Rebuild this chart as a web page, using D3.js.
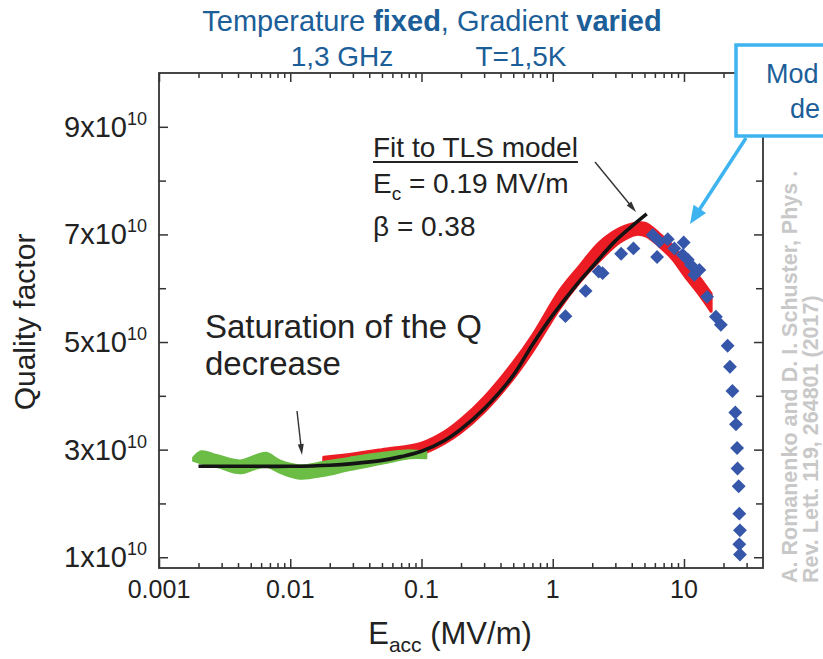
<!DOCTYPE html>
<html>
<head>
<meta charset="utf-8">
<script src="https://cdn.jsdelivr.net/npm/d3@7"></script>
<style>
  html, body { margin: 0; padding: 0; background: #fff; }
  svg { display: block; font-family: "Liberation Sans", Arial, Helvetica, sans-serif; }
</style>
</head>
<body>
<svg id="chart" width="823" height="659"></svg>
<script>
// ---- Data -----------------------------------------------------------------
// Quality factor values are in units of 1e10.

// Measured points at high gradient (blue diamonds)
const diamondE = [1.25, 1.78, 2.24, 2.40, 3.32, 4.12, 5.78, 6.24, 6.50, 7.52, 8.45, 9.78, 9.95,
                  10.7, 11.3, 12.0, 13.1, 15.0, 17.5, 19.1, 21.5, 22.4, 23.4, 24.6, 24.9, 25.4,
                  25.6, 26.1, 26.4, 26.7, 26.4, 26.7];
const diamondQ = [5.48, 5.95, 6.31, 6.28, 6.64, 6.74, 6.99, 6.58, 6.87, 6.91, 6.74, 6.62, 6.85,
                  6.53, 6.43, 6.25, 6.34, 5.84, 5.47, 5.32, 4.93, 4.54, 4.09, 3.69, 3.47, 3.03,
                  2.65, 2.32, 1.81, 1.50, 1.24, 1.05];

// Red measurement band (upper / lower edge)
const redE    = [0.018, 0.03, 0.05, 0.1, 0.15, 0.2, 0.3, 0.5, 0.7, 1.127, 1.6, 2.27, 3.22, 4.31, 5.15, 6.5, 8.2, 10.2, 13.1, 16.1];
const redHigh = [2.86, 2.92, 3.00, 3.12, 3.33, 3.56, 3.97, 4.62, 5.12, 5.95, 6.41, 6.85, 7.11, 7.21, 7.20, 7.01, 6.79, 6.52, 6.20, 5.90];
const redLow  = [2.78, 2.74, 2.78, 2.92, 3.12, 3.32, 3.70, 4.32, 4.82, 5.62, 6.11, 6.51, 6.85, 7.00, 6.97, 6.78, 6.54, 6.22, 5.88, 5.57];

// Green measurement band at low field (upper / lower edge)
const greenE    = [0.00182, 0.0021, 0.00275, 0.00413, 0.00554, 0.0066, 0.00834, 0.01183, 0.0178, 0.0284, 0.0509, 0.0813, 0.1089];
const greenHigh = [2.85, 2.97, 2.90, 2.80, 2.90, 2.94, 2.80, 2.71, 2.77, 2.85, 2.94, 2.99, 2.96];
const greenLow  = [2.79, 2.74, 2.68, 2.56, 2.65, 2.68, 2.57, 2.46, 2.51, 2.62, 2.74, 2.84, 2.84];

// TLS model fit (black curve)
const fitE = [0.002, 0.005, 0.01, 0.02, 0.03, 0.05, 0.07, 0.1, 0.15, 0.2, 0.3, 0.5, 0.7, 1.0, 1.5, 2.0, 3.0, 4.0, 5.2];
const fitQ = [2.69, 2.69, 2.69, 2.71, 2.74, 2.80, 2.87, 2.97, 3.17, 3.38, 3.76, 4.38, 4.95, 5.50, 6.05, 6.40, 6.88, 7.15, 7.38];

// Axis ticks and labels
const xMajor = [0.001, 0.01, 0.1, 1, 10];
const xTickLabels = ["0.001", "0.01", "0.1", "1", "10"];
const xMinor = [0.002,0.003,0.004,0.005,0.006,0.007,0.008,0.009,
                0.02,0.03,0.04,0.05,0.06,0.07,0.08,0.09,
                0.2,0.3,0.4,0.5,0.6,0.7,0.8,0.9,
                2,3,4,5,6,7,8,9,20,30];
const yMajor = [1, 3, 5, 7, 9];
const yTickMantissa = ["1", "3", "5", "7", "9"];
const yMinor = [2, 4, 6, 8];

// Text
const titleParts = [["Temperature ", false], ["fixed", true], [", Gradient ", false], ["varied", true]];
const subtitleLeft = "1,3 GHz";
const subtitleRight = "T=1,5K";
const fitTitle = "Fit to TLS model";
const fitEc = " = 0.19 MV/m";
const fitBeta = "\u03B2 = 0.38";
const saturationLines = ["Saturation of the Q", "decrease"];
const calloutLines = ["Mod", "de"];
const citationLines = ["A. Romanenko and D. I. Schuster, Phys .", "Rev. Lett. 119, 264801 (2017)"];

// ---- Layout ---------------------------------------------------------------
const svg = d3.select("#chart");
const plot = { left: 159, right: 763, top: 73, bottom: 568 };
const x = d3.scaleLog().domain([0.001, 40]).range([plot.left, plot.right]);
const y = d3.scaleLinear().domain([0.8, 10]).range([plot.bottom, plot.top]);

const BLUE_TEXT = "#1b5e98";
const CALLOUT = "#3db3f0";
const AXIS = "#333";

// ---- Data marks -----------------------------------------------------------
const redData = redE.map((e, i) => [e, redHigh[i], redLow[i]]);
const greenData = greenE.map((e, i) => [e, greenHigh[i], greenLow[i]]);

const band = d3.area()
  .x(d => x(d[0]))
  .y0(d => y(d[2]))
  .y1(d => y(d[1]))
  .curve(d3.curveCatmullRom);

svg.append("path")
  .datum(redData)
  .attr("d", band)
  .attr("fill", "#ec1c24")
  .attr("stroke", "#ec1c24")
  .attr("stroke-width", 3)
  .attr("stroke-linejoin", "round");

svg.append("path")
  .datum(greenData)
  .attr("d", band)
  .attr("fill", "#6bbd45")
  .attr("stroke", "#6bbd45")
  .attr("stroke-width", 2)
  .attr("stroke-linejoin", "round");

const diamond = d3.symbol(d3.symbolSquare, 96);
svg.append("g")
  .selectAll("path")
  .data(diamondE.map((e, i) => [e, diamondQ[i]]))
  .join("path")
  .attr("d", diamond)
  .attr("transform", d => `translate(${x(d[0])},${y(d[1])}) rotate(45)`)
  .attr("fill", "#3656aa");

svg.append("path")
  .datum(fitE.map((e, i) => [e, fitQ[i]]))
  .attr("d", d3.line().x(d => x(d[0])).y(d => y(d[1])).curve(d3.curveCatmullRom))
  .attr("fill", "none")
  .attr("stroke", "#141414")
  .attr("stroke-width", 3.6)
  .attr("stroke-linecap", "butt");

// ---- Axes (ticks pointing inward on all four sides) -----------------------
function styleAxis(g) {
  g.select(".domain").remove();
  g.selectAll(".tick line").attr("stroke", AXIS).attr("stroke-width", 1.5);
  g.selectAll(".tick text").remove();
}
const axes = [
  [d3.axisBottom, `translate(0,${plot.bottom})`, x, xMajor, 9],
  [d3.axisBottom, `translate(0,${plot.bottom})`, x, xMinor, 5],
  [d3.axisTop,    `translate(0,${plot.top})`,    x, xMajor, 9],
  [d3.axisTop,    `translate(0,${plot.top})`,    x, xMinor, 5],
  [d3.axisLeft,   `translate(${plot.left},0)`,   y, yMajor, 9],
  [d3.axisLeft,   `translate(${plot.left},0)`,   y, yMinor, 7],
  [d3.axisRight,  `translate(${plot.right},0)`,  y, yMajor, 9],
  [d3.axisRight,  `translate(${plot.right},0)`,  y, yMinor, 7]
];
axes.forEach(([fn, tr, sc, vals, len]) => {
  svg.append("g")
    .attr("transform", tr)
    .call(fn(sc).tickValues(vals).tickSize(-len).tickFormat(""))
    .call(styleAxis);
});

svg.append("rect")
  .attr("x", plot.left).attr("y", plot.top)
  .attr("width", plot.right - plot.left).attr("height", plot.bottom - plot.top)
  .attr("fill", "none").attr("stroke", AXIS).attr("stroke-width", 1.8);

// x tick labels
svg.append("g").selectAll("text")
  .data(xMajor)
  .join("text")
  .attr("x", d => x(d))
  .attr("y", 598)
  .attr("text-anchor", "middle")
  .attr("font-size", 25)
  .attr("fill", "#222")
  .text((d, i) => xTickLabels[i]);

// y tick labels with power-of-ten superscript
const yl = svg.append("g").selectAll("text")
  .data(yMajor)
  .join("text")
  .attr("x", 147)
  .attr("y", d => y(d) + 10)
  .attr("text-anchor", "end")
  .attr("font-size", 29)
  .attr("fill", "#222");
yl.append("tspan").text((d, i) => yTickMantissa[i] + "x10");
yl.append("tspan").attr("dy", -12).attr("font-size", 18).text("10");

// Axis titles
const xt = svg.append("text")
  .attr("x", 450).attr("y", 644)
  .attr("text-anchor", "middle")
  .attr("font-size", 31)
  .attr("fill", "#222");
xt.append("tspan").text("E");
xt.append("tspan").attr("font-size", 21).attr("dy", 8).text("acc");
xt.append("tspan").attr("dy", -8).text(" (MV/m)");

svg.append("text")
  .attr("transform", "translate(35,322) rotate(-90)")
  .attr("text-anchor", "middle")
  .attr("font-size", 30)
  .attr("fill", "#222")
  .text("Quality factor");

// ---- Titles ---------------------------------------------------------------
const tt = svg.append("text")
  .attr("x", 432).attr("y", 31)
  .attr("text-anchor", "middle")
  .attr("font-size", 29)
  .attr("fill", BLUE_TEXT);
titleParts.forEach(([t, b]) => tt.append("tspan").attr("font-weight", b ? "bold" : "normal").text(t));

[[subtitleLeft, 342], [subtitleRight, 521]].forEach(([t, cx]) => {
  svg.append("text")
    .attr("x", cx).attr("y", 66)
    .attr("text-anchor", "middle")
    .attr("font-size", 28)
    .attr("fill", BLUE_TEXT)
    .text(t);
});

// ---- Annotations ----------------------------------------------------------
function arrow(x1, y1, x2, y2, headLen, headW, color, lw) {
  const dx = x2 - x1, dy = y2 - y1, L = Math.hypot(dx, dy);
  const ux = dx / L, uy = dy / L;
  const bx = x2 - ux * headLen, by = y2 - uy * headLen;
  svg.append("line")
    .attr("x1", x1).attr("y1", y1)
    .attr("x2", x2 - ux * headLen * 0.7).attr("y2", y2 - uy * headLen * 0.7)
    .attr("stroke", color).attr("stroke-width", lw);
  svg.append("path")
    .attr("d", `M${x2},${y2} L${bx - uy * headW / 2},${by + ux * headW / 2} L${bx + uy * headW / 2},${by - ux * headW / 2} Z`)
    .attr("fill", color);
}

// Fit description
const ft = svg.append("text")
  .attr("x", 373).attr("y", 157)
  .attr("font-size", 28).attr("fill", "#222")
  .text(fitTitle);
const ftw = ft.node().getComputedTextLength();
svg.append("line")
  .attr("x1", 373).attr("x2", 373 + ftw)
  .attr("y1", 162).attr("y2", 162)
  .attr("stroke", "#222").attr("stroke-width", 1.8);

const ec = svg.append("text")
  .attr("x", 373).attr("y", 193)
  .attr("font-size", 28).attr("fill", "#222");
ec.append("tspan").text("E");
ec.append("tspan").attr("font-size", 19).attr("dy", 7).text("c");
ec.append("tspan").attr("dy", -7).text(fitEc);

svg.append("text")
  .attr("x", 373).attr("y", 236)
  .attr("font-size", 28).attr("fill", "#222")
  .text(fitBeta);

arrow(595, 162, 636, 212, 11, 6, "#333", 1.4);

// Saturation note
saturationLines.forEach((t, i) => {
  svg.append("text")
    .attr("x", 205).attr("y", 338 + i * 37)
    .attr("font-size", 33).attr("fill", "#222")
    .text(t);
});
arrow(297, 411, 302, 455, 11, 6, "#333", 1.4);

// Callout box and arrow
svg.append("rect")
  .attr("x", 736).attr("y", 45)
  .attr("width", 120).attr("height", 91)
  .attr("fill", "#fff")
  .attr("stroke", CALLOUT).attr("stroke-width", 3.5);
calloutLines.forEach((t, i) => {
  svg.append("text")
    .attr("x", i === 0 ? 766 : 790).attr("y", 83 + i * 35)
    .attr("font-size", 27).attr("fill", BLUE_TEXT)
    .text(t);
});
arrow(746, 138, 690, 224, 18, 15, CALLOUT, 3.5);

// Citation
citationLines.forEach((t, i) => {
  svg.append("text")
    .attr("transform", `translate(${797 + i * 21},583) rotate(-90)`)
    .attr("font-size", 21.5)
    .attr("font-weight", "bold")
    .attr("fill", "#c8c8c8")
    .text(t);
});
</script>
</body>
</html>
